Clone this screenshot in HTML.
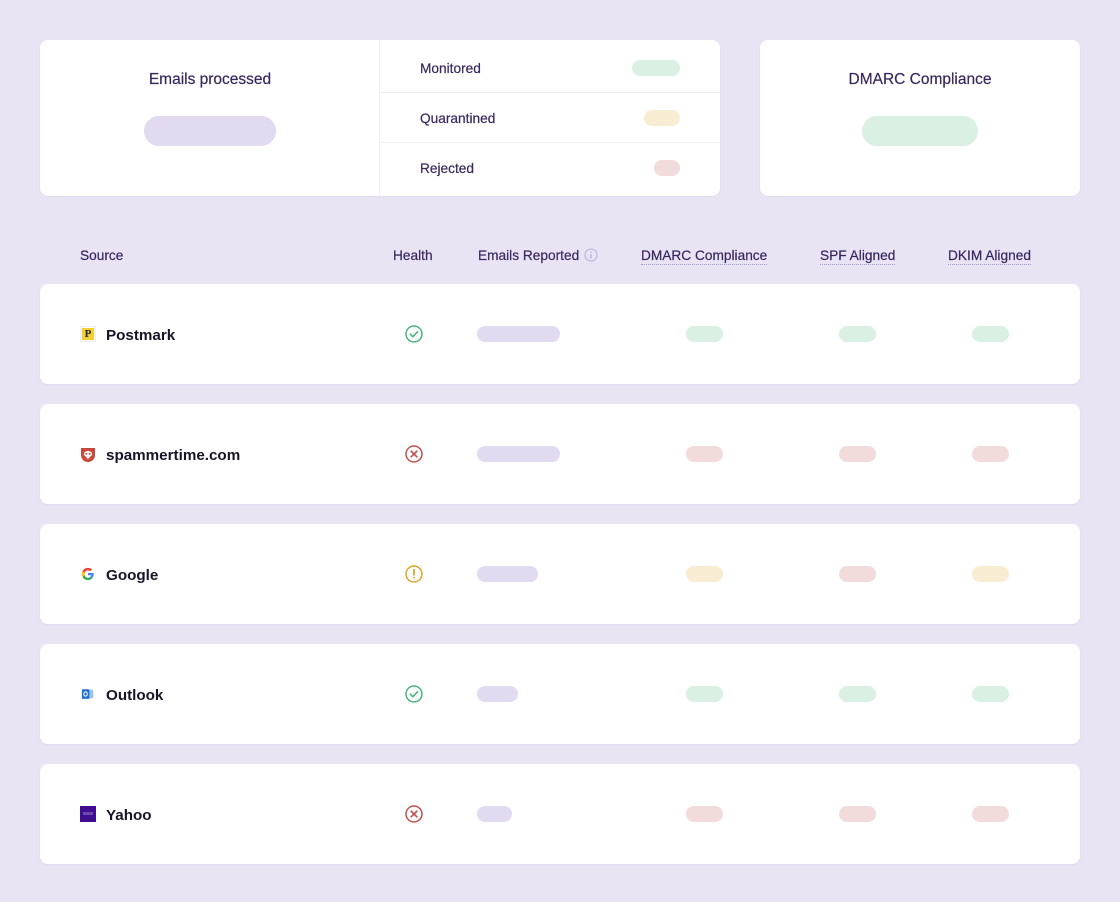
<!DOCTYPE html>
<html><head><meta charset="utf-8">
<style>
*{margin:0;padding:0;box-sizing:border-box}
html,body{width:1120px;height:902px;overflow:hidden}
body{background:#e8e4f4;font-family:"Liberation Sans",sans-serif;position:relative}
.card{position:absolute;background:#fff;border-radius:8px;box-shadow:0 1px 2px rgba(80,60,140,0.06)}
.t{position:absolute;color:#38275f;white-space:nowrap;-webkit-text-stroke:0.2px #38275f}
.pill{position:absolute;border-radius:8px}
.pu{background:#e1daf0}
.gr{background:#d9f0e3}
.ye{background:#f8ecd3}
.rd{background:#f2dcdb}
.hdr{position:absolute;top:248px;font-size:13.7px;color:#38275f;white-space:nowrap;line-height:16px;-webkit-text-stroke:0.2px #38275f}
.dot{border-bottom:1px dotted #a897d6;padding-bottom:1px}
.name{position:absolute;left:106px;top:43px;font-size:15.2px;font-weight:bold;color:#17132a;line-height:18px}
.ico{position:absolute;left:80px;top:42px;width:16px;height:16px}
.hl{position:absolute;left:405px;top:41px;width:18px;height:18px}
</style></head><body>

<!-- top card 1 -->
<div class="card" style="left:40px;top:40px;width:680px;height:156px">
  <div class="t" style="left:0;width:340px;top:31px;text-align:center;font-size:15.5px;line-height:18px">Emails processed</div>
  <div class="pill pu" style="left:104px;top:76px;width:132px;height:30px;border-radius:15px"></div>
  <div style="position:absolute;left:339px;top:0;width:1px;height:156px;background:#efedf5"></div>
  <div style="position:absolute;left:340px;top:52px;width:340px;height:1px;background:#efedf5"></div>
  <div style="position:absolute;left:340px;top:102px;width:340px;height:1px;background:#efedf5"></div>
  <div class="t" style="left:380px;top:21px;font-size:13.7px;line-height:16px">Monitored</div>
  <div class="pill gr" style="left:592px;top:20px;width:48px;height:16px"></div>
  <div class="t" style="left:380px;top:71px;font-size:13.7px;line-height:16px">Quarantined</div>
  <div class="pill ye" style="left:604px;top:70px;width:36px;height:16px"></div>
  <div class="t" style="left:380px;top:121px;font-size:13.7px;line-height:16px">Rejected</div>
  <div class="pill rd" style="left:614px;top:120px;width:26px;height:16px"></div>
</div>

<!-- top card 2 -->
<div class="card" style="left:760px;top:40px;width:320px;height:156px">
  <div class="t" style="left:0;width:320px;top:31px;text-align:center;font-size:15.5px;line-height:18px">DMARC Compliance</div>
  <div class="pill gr" style="left:102px;top:76px;width:116px;height:30px;border-radius:15px"></div>
</div>

<!-- header -->
<div class="hdr" style="left:80px">Source</div>
<div class="hdr" style="left:393px">Health</div>
<div class="hdr" style="left:478px">Emails Reported</div>
<svg style="position:absolute;left:584px;top:248px" width="14" height="14" viewBox="0 0 14 14"><circle cx="7" cy="7" r="6" fill="none" stroke="#b9ace0" stroke-width="1"/><rect x="6.4" y="6" width="1.2" height="4.5" fill="#b9ace0"/><rect x="6.4" y="3.6" width="1.2" height="1.2" fill="#b9ace0"/></svg>
<div class="hdr" style="left:641px"><span class="dot">DMARC Compliance</span></div>
<div class="hdr" style="left:820px"><span class="dot">SPF Aligned</span></div>
<div class="hdr" style="left:948px"><span class="dot">DKIM Aligned</span></div>

<!-- rows -->
<!-- Postmark -->
<div class="card" style="left:40px;top:284px;width:1040px;height:100px"></div>
<div style="position:absolute;left:0;top:284px;width:1120px;height:100px">
  <div class="ico" style="background:#fff;border:1px solid #eee;padding:1px"><div style="width:12px;height:12px;background:#f4cf33;color:#222;font-family:'Liberation Serif',serif;font-size:11px;line-height:12px;text-align:center;font-weight:bold">P</div></div>
  <div class="name">Postmark</div>
  <svg class="hl" viewBox="0 0 18 18"><circle cx="9" cy="9" r="8" fill="none" stroke="#4bb57d" stroke-width="1.5"/><path d="M5.3 9.2l2.5 2.5 4.8-4.9" fill="none" stroke="#4bb57d" stroke-width="1.6" stroke-linecap="round" stroke-linejoin="round"/></svg>
  <div class="pill pu" style="left:477px;top:42px;width:83px;height:16px"></div>
  <div class="pill gr" style="left:686px;top:42px;width:37px;height:16px"></div>
  <div class="pill gr" style="left:839px;top:42px;width:37px;height:16px"></div>
  <div class="pill gr" style="left:972px;top:42px;width:37px;height:16px"></div>
</div>

<!-- spammertime -->
<div class="card" style="left:40px;top:404px;width:1040px;height:100px"></div>
<div style="position:absolute;left:0;top:404px;width:1120px;height:100px">
  <svg class="ico" viewBox="0 0 16 16"><path d="M1 2h14v7a7 7 0 0 1-14 0z" fill="#c9473b"/><ellipse cx="8" cy="8" rx="4.2" ry="3" fill="#fff"/><circle cx="6.3" cy="7.8" r="1" fill="#c9473b"/><circle cx="9.7" cy="7.8" r="1" fill="#c9473b"/><rect x="6.5" y="10.5" width="3" height="2" fill="#fff"/></svg>
  <div class="name">spammertime.com</div>
  <svg class="hl" viewBox="0 0 18 18"><circle cx="9" cy="9" r="8" fill="none" stroke="#c0504c" stroke-width="1.5"/><path d="M6.2 6.2l5.6 5.6M11.8 6.2l-5.6 5.6" stroke="#c0504c" stroke-width="1.7" stroke-linecap="round"/></svg>
  <div class="pill pu" style="left:477px;top:42px;width:83px;height:16px"></div>
  <div class="pill rd" style="left:686px;top:42px;width:37px;height:16px"></div>
  <div class="pill rd" style="left:839px;top:42px;width:37px;height:16px"></div>
  <div class="pill rd" style="left:972px;top:42px;width:37px;height:16px"></div>
</div>

<!-- Google -->
<div class="card" style="left:40px;top:524px;width:1040px;height:100px"></div>
<div style="position:absolute;left:0;top:524px;width:1120px;height:100px">
  <svg class="ico" viewBox="0 0 16 16" style="left:81px;top:43px;width:14px;height:14px"><path d="M14.5 8.2c0-.5 0-.9-.1-1.3H8v2.5h3.7c-.2.9-.7 1.6-1.4 2.1v1.7h2.2c1.3-1.2 2-3 2-5z" fill="#4285f4"/><path d="M8 15c1.9 0 3.4-.6 4.5-1.7l-2.2-1.7c-.6.4-1.4.7-2.300.7-1.8 0-3.3-1.2-3.9-2.8H1.8v1.8C2.9 13.5 5.3 15 8 15z" fill="#34a853"/><path d="M4.1 9.5c-.1-.4-.2-.9-.2-1.5s.1-1 .2-1.500V4.7H1.8C1.3 5.7 1 6.8 1 8s.3 2.3.8 3.3z" fill="#fbbc05"/><path d="M8 3.8c1 0 1.9.4 2.6 1l2-2C11.4 1.7 9.9 1 8 1 5.3 1 2.9 2.5 1.8 4.7l2.3 1.8C4.7 5 6.2 3.8 8 3.8z" fill="#ea4335"/></svg>
  <div class="name">Google</div>
  <svg class="hl" viewBox="0 0 18 18"><circle cx="9" cy="9" r="8" fill="none" stroke="#e0a428" stroke-width="1.5"/><path d="M9 4.8v5" stroke="#e0a428" stroke-width="1.8" stroke-linecap="round"/><circle cx="9" cy="12.6" r="1" fill="#e0a428"/></svg>
  <div class="pill pu" style="left:477px;top:42px;width:61px;height:16px"></div>
  <div class="pill ye" style="left:686px;top:42px;width:37px;height:16px"></div>
  <div class="pill rd" style="left:839px;top:42px;width:37px;height:16px"></div>
  <div class="pill ye" style="left:972px;top:42px;width:37px;height:16px"></div>
</div>

<!-- Outlook -->
<div class="card" style="left:40px;top:644px;width:1040px;height:100px"></div>
<div style="position:absolute;left:0;top:644px;width:1120px;height:100px">
  <svg class="ico" viewBox="0 0 16 16" style="left:81px;top:43px;width:14px;height:14px"><rect x="5" y="3" width="9" height="10" rx="1" fill="#9cc3ee"/><rect x="1" y="2.5" width="8.5" height="11" rx="1" fill="#1f6fd1"/><ellipse cx="5.2" cy="8" rx="2" ry="2.5" fill="none" stroke="#fff" stroke-width="1.2"/></svg>
  <div class="name">Outlook</div>
  <svg class="hl" viewBox="0 0 18 18"><circle cx="9" cy="9" r="8" fill="none" stroke="#4bb57d" stroke-width="1.5"/><path d="M5.3 9.2l2.5 2.5 4.8-4.9" fill="none" stroke="#4bb57d" stroke-width="1.6" stroke-linecap="round" stroke-linejoin="round"/></svg>
  <div class="pill pu" style="left:477px;top:42px;width:41px;height:16px"></div>
  <div class="pill gr" style="left:686px;top:42px;width:37px;height:16px"></div>
  <div class="pill gr" style="left:839px;top:42px;width:37px;height:16px"></div>
  <div class="pill gr" style="left:972px;top:42px;width:37px;height:16px"></div>
</div>

<!-- Yahoo -->
<div class="card" style="left:40px;top:764px;width:1040px;height:100px"></div>
<div style="position:absolute;left:0;top:764px;width:1120px;height:100px">
  <div class="ico" style="background:#3f0c92"><div style="margin-top:6px;height:3px;margin-left:3px;width:10px;background:#6a48b0"></div></div>
  <div class="name">Yahoo</div>
  <svg class="hl" viewBox="0 0 18 18"><circle cx="9" cy="9" r="8" fill="none" stroke="#c0504c" stroke-width="1.5"/><path d="M6.2 6.2l5.6 5.6M11.8 6.2l-5.6 5.6" stroke="#c0504c" stroke-width="1.7" stroke-linecap="round"/></svg>
  <div class="pill pu" style="left:477px;top:42px;width:35px;height:16px"></div>
  <div class="pill rd" style="left:686px;top:42px;width:37px;height:16px"></div>
  <div class="pill rd" style="left:839px;top:42px;width:37px;height:16px"></div>
  <div class="pill rd" style="left:972px;top:42px;width:37px;height:16px"></div>
</div>

</body></html>
